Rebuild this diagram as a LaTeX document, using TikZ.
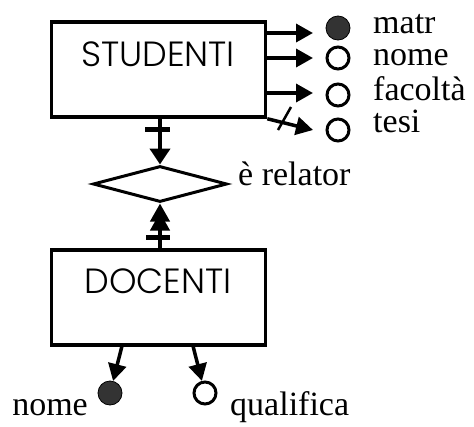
\documentclass[tikz,border=0pt]{standalone}
\usepackage{fontspec}
\setmainfont{Liberation Serif}
\newfontfamily\entfont{Poppins Light}
\usetikzlibrary{arrows.meta,shapes.geometric}
\begin{document}
\begin{tikzpicture}[x=1pt,y=-1pt,
  ent/.style={draw,line width=3.5pt,minimum width=214pt,minimum height=95pt,inner sep=0pt},
  enttext/.style={font=\entfont\fontsize{35}{40}\selectfont,inner sep=0pt},
  lbl/.style={font=\fontsize{34}{40}\selectfont,inner sep=0pt},
  key/.style={circle,draw,line width=3pt,minimum size=22pt,inner sep=0pt,fill=white},
  keyf/.style={circle,draw=black,line width=0.8pt,fill=black!80,minimum size=24pt,inner sep=0pt},
  con/.style={line width=3.5pt,-{Triangle[length=17pt,width=18pt]}},
  vcon/.style={line width=4pt},
  bar/.style={line width=5pt},
  slash/.style={line width=2.5pt}
]
\useasboundingbox (0,0) rectangle (474,426);
% entities
\node[ent] (stu) at (158.5,69.5) {};
\node[enttext] (stut) at (158,54) {STUDENTI};
\node[ent] (doc) at (158.5,297.5) {};
\node[enttext] (doct) at (158,281) {DOCENTI};
% relationship
\node[diamond,draw,line width=3pt,minimum width=134pt,minimum height=36pt,inner sep=0pt] (rel) at (160,184) {};
\node[lbl,anchor=base west] (rellbl) at (238,185) {è relator};
% STUDENTI attributes
\node[keyf] (c1) at (338,28) {};
\node[key] (c2) at (338,58) {};
\node[key] (c3) at (338,95) {};
\node[key] (c4) at (338,130) {};
\node[lbl,anchor=base west] (l1) at (373,33) {matr};
\node[lbl,anchor=base west] (l2) at (373,65) {nome};
\node[lbl,anchor=base west] (l3) at (373,100) {facoltà};
\node[lbl,anchor=base west] (l4) at (373,132) {tesi};
\coordinate (e1) at (313,33);
\coordinate (e2) at (313,58);
\coordinate (e3) at (313,93);
\coordinate (e4) at (313,130);
\draw[con] (stu.east |- e1) -- (e1);
\draw[con] (stu.east |- e2) -- (e2);
\draw[con] (stu.east |- e3) -- (e3);
\draw[con] (stu.south east) -- (e4);
\coordinate (s4a) at (278,130);
\coordinate (s4b) at (291,107);
\draw[slash] (s4a) -- (s4b);
% STUDENTI - relationship
\draw[vcon,-{Triangle[length=16pt,width=20pt]}] (stu.south -| rel.north) -- (rel.north);
\coordinate (b1a) at (145,129.5);
\coordinate (b1b) at (170,129.5);
\draw[bar] (b1a) -- (b1b);
% DOCENTI - relationship
\draw[vcon,-{Triangle[length=18pt,width=19pt,sep=-9pt]Triangle[length=18pt,width=19pt]}] (doc.north -| rel.south) -- (rel.south);
\coordinate (b2a) at (146,237.5);
\coordinate (b2b) at (170,237.5);
\draw[bar] (b2a) -- (b2b);
% DOCENTI attributes
\node[keyf] (d1) at (110,393) {};
\node[key] (d2) at (205,393) {};
\coordinate (f1) at (122,346);
\coordinate (f2) at (193,346);
\draw[con] (f1) -- (d1);
\draw[con] (f2) -- (d2);
\node[lbl,anchor=base east] (m1) at (88,415) {nome};
\node[lbl,anchor=base west] (m2) at (230,415) {qualifica};
\end{tikzpicture}
\end{document}
